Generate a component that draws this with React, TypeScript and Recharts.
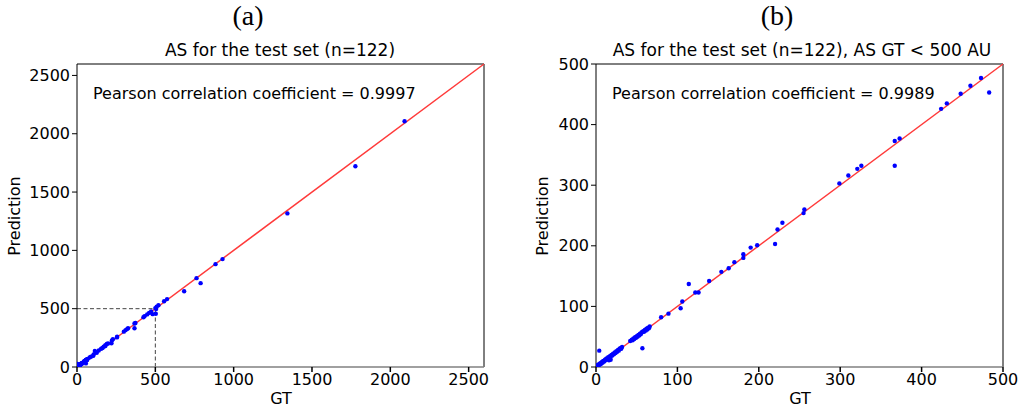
import React from "react"
import { ReferenceLine, Scatter, ScatterChart, XAxis, YAxis } from "recharts"

// ground truth (AU) and predicted AS per test case
const gtValues = [
  0.5, 1, 1.5, 2, 2.5, 3, 3.5, 4, 4.5, 5, 6, 6.5, 7, 8, 8.5, 9, 10, 11, 12, 12.5,
  13, 14, 15, 16, 17, 18, 19, 20, 21, 22, 23, 24, 25, 26, 27, 28, 29, 30, 31, 32,
  4, 16, 18, 42, 44, 45, 46, 47, 48, 49, 50, 51, 52, 53, 54, 55, 56, 57, 58, 59,
  60, 61, 62, 63, 64, 65, 66, 57, 80, 89, 104, 106, 114, 122, 126, 139, 154, 163,
  170, 181, 181, 190, 198, 220, 223, 229, 255, 256, 299, 310, 321, 326, 367, 367,
  373, 424, 431, 448, 460, 473, 483, 500, 503, 505, 509, 520, 556, 575, 684, 763,
  789, 884, 929, 1343, 1777, 2091,
]
const predValues = [
  1, 2, 1, 3, 2, 4, 3, 5, 4, 6, 5, 7, 8, 7, 9, 10, 9, 12, 11, 13,
  14, 13, 16, 15, 18, 17, 20, 19, 22, 21, 24, 23, 26, 25, 28, 27, 30, 31, 30, 33,
  27, 11, 12, 43, 45, 44, 47, 46, 49, 48, 51, 50, 53, 52, 55, 54, 57, 31, 59, 58,
  61, 60, 63, 62, 65, 64, 67, 58, 82, 88, 97, 108, 137, 123, 123, 142, 157, 163,
  173, 186, 180, 197, 201, 203, 227, 238, 254, 260, 303, 316, 327, 332, 332, 373,
  377, 426, 435, 451, 464, 477, 453, 505, 457, 497, 518, 530, 564, 582, 650, 762,
  719, 882, 925, 1317, 1721, 2107,
]

const allTicks = [0, 500, 1000, 1500, 2000, 2500]
const zoomTicks = [0, 100, 200, 300, 400, 500]
const allMax = 2598
const zoomMax = 500

const points = gtValues.map((gt, i) => ({ gt, pred: predValues[i] }))
const lowPoints = points.filter((p) => p.gt < 500)

const font = "DejaVu Sans"
const tickFont = { fill: "#000", fontSize: 16, fontFamily: font }

const Dot = (props: any) => <circle cx={props.cx} cy={props.cy} r={2.2} fill="#0000ff" />

function Txt({ x, y, size = 16, family = font, rotate = false, anchor = "center", children }: any) {
  return (
    <div
      style={{
        position: "absolute",
        left: x,
        top: y,
        fontFamily: family,
        fontSize: size,
        lineHeight: 1,
        whiteSpace: "nowrap",
        color: "#000",
        transform:
          (anchor === "center" ? "translate(-50%,-50%)" : "translate(0,-50%)") + (rotate ? " rotate(-90deg)" : ""),
      }}
    >
      {children}
    </div>
  )
}

function Panel({ data, max, ticks, guide }: { data: any[]; max: number; ticks: number[]; guide?: boolean }) {
  return (
    <ScatterChart width={500} height={413} margin={{ top: 64, right: 16, left: 17, bottom: 16 }}>
      <XAxis
        type="number"
        dataKey="gt"
        domain={[0, max]}
        ticks={ticks}
        allowDataOverflow
        height={30}
        tickSize={5}
        tickMargin={2}
        stroke="#808080"
        strokeWidth={1.5}
        tickLine={{ stroke: "#000" }}
        tick={tickFont}
      />
      <YAxis
        type="number"
        dataKey="pred"
        domain={[0, max]}
        ticks={ticks}
        allowDataOverflow
        width={60}
        tickSize={5}
        tickMargin={2}
        stroke="#000"
        tick={tickFont}
      />
      <ReferenceLine y={max} stroke="#000" />
      <ReferenceLine x={max} stroke="#000" />
      {guide && (
        <ReferenceLine
          segment={[
            { x: 500, y: 0 },
            { x: 500, y: 500 },
          ]}
          stroke="#444"
          strokeDasharray="4 2.5"
        />
      )}
      {guide && (
        <ReferenceLine
          segment={[
            { x: 0, y: 500 },
            { x: 500, y: 500 },
          ]}
          stroke="#444"
          strokeDasharray="4 2.5"
        />
      )}
      <Scatter data={data} shape={Dot} isAnimationActive={false} />
      <ReferenceLine
        segment={[
          { x: 0, y: 0 },
          { x: max, y: max },
        ]}
        stroke="#ff3a3a"
        strokeWidth={1.5}
      />
    </ScatterChart>
  )
}

export default function App() {
  return (
    <div style={{ position: "absolute", left: 0, top: 0, width: 1021, height: 413, background: "#fff" }}>
      <div style={{ position: "absolute", left: 0, top: 0 }}>
        <Panel data={points} max={allMax} ticks={allTicks} guide />
      </div>
      <div style={{ position: "absolute", left: 519, top: 0 }}>
        <Panel data={lowPoints} max={zoomMax} ticks={zoomTicks} />
      </div>
      <Txt x={248} y={16} size={28} family="Liberation Serif">(a)</Txt>
      <Txt x={777} y={16} size={28} family="Liberation Serif">(b)</Txt>
      <Txt x={280} y={50} size={17}>AS for the test set (n=122)</Txt>
      <Txt x={802} y={50} size={17}>AS for the test set (n=122), AS GT &lt; 500 AU</Txt>
      <Txt x={93} y={94} anchor="left">Pearson correlation coefficient = 0.9997</Txt>
      <Txt x={612} y={94} anchor="left">Pearson correlation coefficient = 0.9989</Txt>
      <Txt x={15} y={216} rotate>Prediction</Txt>
      <Txt x={543} y={216} rotate>Prediction</Txt>
      <Txt x={281} y={399}>GT</Txt>
      <Txt x={800} y={399}>GT</Txt>
    </div>
  )
}
